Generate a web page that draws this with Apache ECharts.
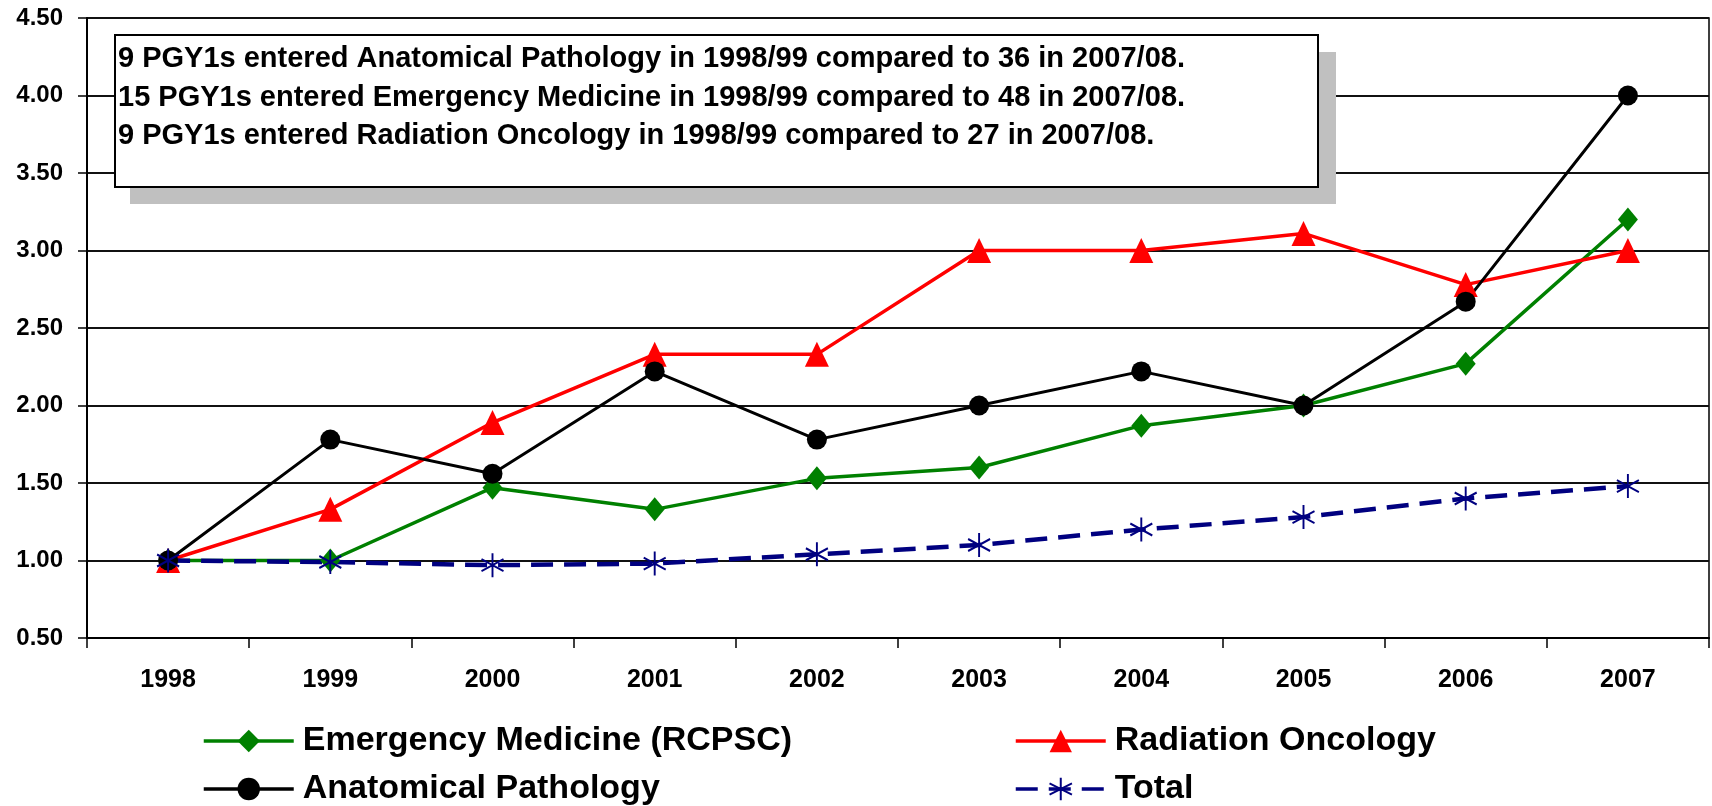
<!DOCTYPE html>
<html>
<head>
<meta charset="utf-8">
<script src="https://cdn.jsdelivr.net/npm/echarts@6/dist/echarts.min.js"></script>
<style>
  html, body { margin: 0; padding: 0; background: #fff; }
  #chart { width: 1712px; height: 806px; }
</style>
</head>
<body>
<div id="chart"></div>
<script>
const years = ['1998', '1999', '2000', '2001', '2002', '2003', '2004', '2005', '2006', '2007']

// growth relative to 1998/99 intake
const emergencyMedicine = [1.00, 1.00, 1.47, 1.33, 1.53, 1.60, 1.87, 2.00, 2.27, 3.20]
const radiationOncology = [1.00, 1.33, 1.89, 2.33, 2.33, 3.00, 3.00, 3.11, 2.78, 3.00]
const anatomicalPathology = [1.00, 1.78, 1.56, 2.22, 1.78, 2.00, 2.22, 2.00, 2.67, 4.00]
const total = [1.00, 0.99, 0.97, 0.98, 1.04, 1.10, 1.20, 1.28, 1.40, 1.48]

const notes = [
  '9 PGY1s entered Anatomical Pathology in 1998/99 compared to 36 in 2007/08.',
  '15 PGY1s entered Emergency Medicine in 1998/99 compared to 48 in 2007/08.',
  '9 PGY1s entered Radiation Oncology in 1998/99 compared to 27 in 2007/08.'
]

const FONT = "'Liberation Sans', Arial, sans-serif"
const asterisk = 'path://M10,0L10,22M0,5.5L20,16.5M0,16.5L20,5.5'

const chart = echarts.init(document.getElementById('chart'))

const legendText = {
  fontFamily: FONT,
  fontWeight: 'bold',
  fontSize: 34,
  lineHeight: 34,
  color: '#000',
  padding: [0, 0, 0, 4]
}

const noteGraphics = [
  {
    type: 'rect',
    z: 100,
    shape: { x: 130, y: 52, width: 1206, height: 152 },
    style: { fill: '#c0c0c0' }
  },
  {
    type: 'rect',
    z: 101,
    shape: { x: 115, y: 35, width: 1203, height: 152 },
    style: { fill: '#fff', stroke: '#000', lineWidth: 2 }
  }
]
notes.forEach((t, i) => {
  noteGraphics.push({
    type: 'text',
    z: 102,
    x: 118,
    y: 59 + i * 38.5,
    style: {
      text: t,
      fill: '#000',
      font: 'bold 29px ' + FONT,
      verticalAlign: 'middle'
    }
  })
})

const legendBase = {
  orient: 'vertical',
  top: 719,
  height: 120,
  itemWidth: 90,
  itemHeight: 28,
  itemGap: 14,
  lineStyle: { width: 3.5 },
  textStyle: legendText
}

const option = {
  animation: false,
  backgroundColor: '#fff',
  grid: {
    left: 87,
    right: 3,
    top: 18,
    bottom: 168,
    show: true,
    borderColor: '#000',
    borderWidth: 1.5,
    backgroundColor: 'transparent'
  },
  legend: [
    Object.assign({}, legendBase, {
      data: ['Emergency Medicine (RCPSC)', 'Anatomical Pathology'],
      left: 197
    }),
    Object.assign({}, legendBase, {
      data: ['Radiation Oncology', 'Total'],
      left: 1009
    })
  ],
  xAxis: {
    type: 'category',
    data: years,
    boundaryGap: true,
    axisLine: { lineStyle: { color: '#000', width: 2 } },
    axisTick: { show: true, length: 10, interval: 0, lineStyle: { color: '#000', width: 1.5 } },
    axisLabel: {
      margin: 30,
      fontFamily: FONT,
      fontWeight: 'bold',
      fontSize: 25,
      color: '#000'
    }
  },
  yAxis: {
    type: 'value',
    min: 0.5,
    max: 4.5,
    interval: 0.5,
    axisLine: { show: true, lineStyle: { color: '#000', width: 2 } },
    axisTick: { show: true, length: 9, lineStyle: { color: '#000', width: 1.5 } },
    splitLine: { lineStyle: { color: '#111', width: 2 } },
    axisLabel: {
      margin: 24,
      fontFamily: FONT,
      fontWeight: 'bold',
      fontSize: 24,
      color: '#000',
      formatter: v => v.toFixed(2)
    }
  },
  series: [
    {
      name: 'Emergency Medicine (RCPSC)',
      type: 'line',
      data: emergencyMedicine,
      symbol: 'diamond',
      symbolSize: [20, 24],
      lineStyle: { color: '#008000', width: 3.5 },
      itemStyle: { color: '#008000' }
    },
    {
      name: 'Radiation Oncology',
      type: 'line',
      data: radiationOncology,
      symbol: 'triangle',
      symbolSize: [24, 25],
      lineStyle: { color: '#ff0000', width: 3.5 },
      itemStyle: { color: '#ff0000' }
    },
    {
      name: 'Anatomical Pathology',
      type: 'line',
      data: anatomicalPathology,
      symbol: 'circle',
      symbolSize: 20,
      lineStyle: { color: '#000', width: 3 },
      itemStyle: { color: '#000' }
    },
    {
      name: 'Total',
      type: 'line',
      data: total,
      symbol: asterisk,
      symbolSize: [22, 24],
      lineStyle: { color: '#000080', width: 4.5, type: [22, 11] },
      itemStyle: { color: '#000080', borderColor: '#000080', borderWidth: 2 }
    }
  ],
  graphic: noteGraphics
}

chart.setOption(option)
</script>
</body>
</html>
